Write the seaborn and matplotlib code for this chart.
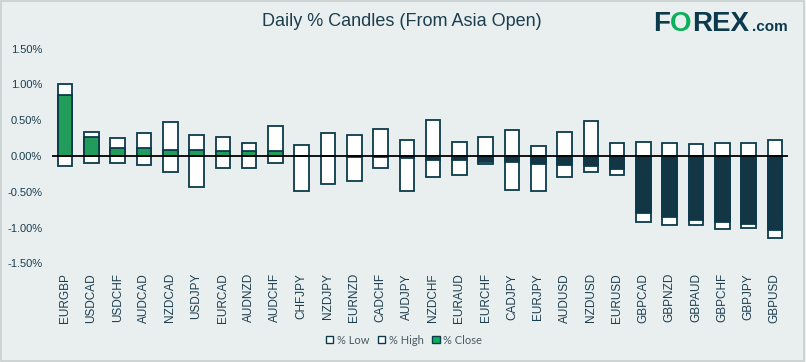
import matplotlib
matplotlib.use("Agg")
import matplotlib.pyplot as plt
import matplotlib.patches as mpatches
import seaborn as sns
import pandas as pd
import numpy as np

pairs = ["EURGBP", "USDCAD", "USDCHF", "AUDCAD", "NZDCAD", "USDJPY", "EURCAD", "AUDNZD",
         "AUDCHF", "CHFJPY", "NZDJPY", "EURNZD", "CADCHF", "AUDJPY", "NZDCHF", "EURAUD",
         "EURCHF", "CADJPY", "EURJPY", "AUDUSD", "NZDUSD", "EURUSD", "GBPCAD", "GBPNZD",
         "GBPAUD", "GBPCHF", "GBPJPY", "GBPUSD"]
pct_high = [1.00, 0.33, 0.25, 0.32, 0.47, 0.29, 0.26, 0.18,
            0.415, 0.152, 0.318, 0.29, 0.373, 0.22, 0.50, 0.194,
            0.26, 0.36, 0.138, 0.33, 0.484, 0.18, 0.194, 0.18,
            0.166, 0.18, 0.18, 0.22]
pct_low = [-0.138, -0.097, -0.10, -0.124, -0.22, -0.43, -0.166, -0.166,
           -0.10, -0.484, -0.387, -0.346, -0.166, -0.484, -0.30, -0.26,
           -0.11, -0.47, -0.484, -0.29, -0.22, -0.26, -0.926, -0.968,
           -0.968, -1.02, -1.01, -1.15]
pct_close = [0.857, 0.26, 0.11, 0.11, 0.083, 0.083, 0.07, 0.07,
             0.07, 0.0, 0.0, -0.01, -0.01, -0.03, -0.06, -0.06,
             -0.08, -0.088, -0.115, -0.13, -0.143, -0.184, -0.79, -0.85,
             -0.89, -0.917, -0.945, -1.03]
yticks = [-1.5, -1.0, -0.5, 0.0, 0.5, 1.0, 1.5]

NAVY = "#0B3A4C"
GREEN = "#0DB05A"
BG = "#E9EFEF"
TXT = "#1C3D4E"

df = pd.DataFrame({"pair": pairs, "high": pct_high, "low": pct_low, "close": pct_close})
df["dir"] = np.where(df["close"] >= 0, "up", "down")

sns.set_theme(style="white")
plt.rcParams["font.family"] = ["Liberation Sans", "DejaVu Sans"]

fig = plt.figure(figsize=(8.06, 3.62), dpi=100, facecolor=BG)
ax = fig.add_axes([52 / 806, 1 - 263.3 / 362, 736 / 806, (263.3 - 48.7) / 362])
ax.set_facecolor(BG)

W = 0.55
LW = 1.3
sns.barplot(data=df, x="pair", y="low", color="white", edgecolor=NAVY, linewidth=LW,
            width=W, ax=ax, order=pairs)
sns.barplot(data=df, x="pair", y="high", color="white", edgecolor=NAVY, linewidth=LW,
            width=W, ax=ax, order=pairs)
sns.barplot(data=df, x="pair", y="close", hue="dir", palette={"up": GREEN, "down": NAVY},
            dodge=False, edgecolor=NAVY, linewidth=LW, width=W, ax=ax, order=pairs,
            legend=False)

ax.axhline(0, color="black", lw=1.3, zorder=5)
ax.set_xlim(-0.5, len(pairs) - 0.5)
ax.set_ylim(-1.5, 1.5)
ax.set_yticks(yticks)
ax.set_yticklabels([f"{v:.2f}%" for v in yticks])
ax.set_xlabel("")
ax.set_ylabel("")
for s in ax.spines.values():
    s.set_visible(False)
ax.tick_params(axis="y", length=0, pad=7, labelsize=8, labelcolor=TXT)
ax.tick_params(axis="x", length=0, pad=7, labelsize=8.5, labelcolor=TXT, rotation=90)

fig.text(402 / 806, 1 - 22 / 362, "Daily % Candles (From Asia Open)", ha="center", va="center",
         fontsize=13, color=TXT)

# logo
logo_y = 1 - 24 / 362
LF = ["Liberation Sans", "DejaVu Sans"]
fig.text(653 / 806, logo_y, "F", ha="left", va="center", fontsize=20, fontweight="bold",
         color=NAVY, family=LF)
fig.text(670 / 806, logo_y, "O", ha="left", va="center", fontsize=20, fontweight="bold",
         color=GREEN, family=LF)
fig.text(692 / 806, logo_y, "REX", ha="left", va="center", fontsize=20, fontweight="bold",
         color=NAVY, family=LF)
fig.text(752 / 806, 1 - 27 / 362, ".com", ha="left", va="center", fontsize=11, fontweight="bold",
         color=NAVY, family=LF)

handles = [mpatches.Patch(facecolor="white", edgecolor=NAVY, lw=1, label="% Low"),
           mpatches.Patch(facecolor="white", edgecolor=NAVY, lw=1, label="% High"),
           mpatches.Patch(facecolor=GREEN, edgecolor=NAVY, lw=1, label="% Close")]
leg = fig.legend(handles=handles, loc="center", bbox_to_anchor=(404 / 806, 1 - 340 / 362), ncol=3,
                 frameon=False, handlelength=0.65, handleheight=0.65, handletextpad=0.3,
                 columnspacing=0.8, prop={"family": "Lato", "size": 8})
for t in leg.get_texts():
    t.set_color("#4A5A63")

fig.patches.append(mpatches.Rectangle((0.001, 0.002), 0.996, 0.995, transform=fig.transFigure,
                                      fill=False, edgecolor="#C9CFCF", lw=1.2))

fig.savefig("out.png", dpi=100, facecolor=BG)
